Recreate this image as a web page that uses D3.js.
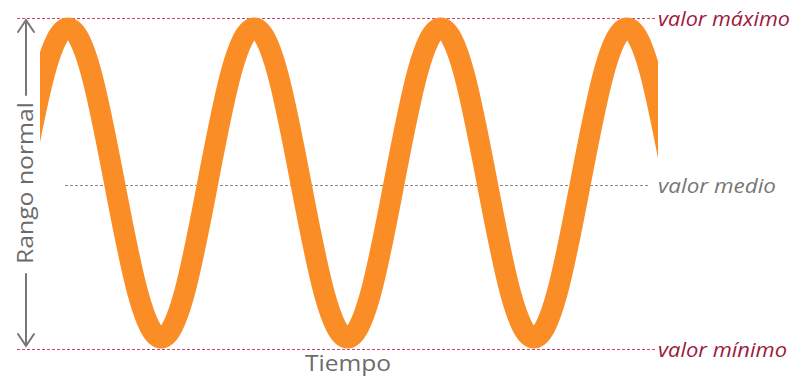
<!DOCTYPE html>
<html>
<head>
<meta charset="utf-8">
<script src="https://cdn.jsdelivr.net/npm/d3@7"></script>
<style>
    body { margin: 0; background: #fff; }
    svg text { font-family: "Open Sans", sans-serif; }
    .ref-label { font-style: italic; }
</style>
</head>
<body>
<div class="mainview"></div>
<script>

// time in eighths of a period, value as share of the amplitude
const tiempo = [-2, -1, 0, 1, 2, 3, 4, 5, 6, 7, 8, 9, 10, 11, 12, 13, 14, 15, 16, 17, 18, 19, 20, 21, 22, 23, 24, 25, 26, 27];
const valor = [0, 0.71, 1, 0.71, 0, -0.71, -1, -0.71, 0, 0.71, 1, 0.71, 0, -0.71, -1, -0.71, 0, 0.71, 1, 0.71, 0, -0.71, -1, -0.71, 0, 0.71, 1, 0.71, 0, -0.71];
const refLabels = ["valor máximo", "valor medio", "valor mínimo"];
const refValues = [1, 0, -1];
const axisTitles = { x: "Tiempo", y: "Rango normal" };

const dim = { width: 793, height: 377 };
const plot = { left: 40, right: 658 };
const strokeW = 21;

const x = d3.scaleLinear()
    .domain([-1.2, 25.33])
    .range([plot.left, plot.right]);

const y = d3.scaleLinear()
    .domain([-1, 1])
    .range([338, 28]);

const svg = d3.select(".mainview").append("svg")
    .attr("width", dim.width)
    .attr("height", dim.height);

svg.append("defs").append("clipPath")
    .attr("id", "clip")
    .append("rect")
    .attr("x", plot.left).attr("y", 0)
    .attr("width", plot.right - plot.left)
    .attr("height", dim.height);

// reference lines
const refY = v => Math.round(v === 1 ? y(v) - strokeW / 2 : v === -1 ? y(v) + strokeW / 2 : y(v) + 2) + 0.5;

svg.append("g")
    .selectAll("line")
    .data(refValues)
    .join("line")
    .attr("x1", v => v === 0 ? 65 : 17)
    .attr("x2", v => v === 0 ? 650 : 655)
    .attr("y1", refY)
    .attr("y2", refY)
    .attr("stroke", v => v === 0 ? "#8a8a8a" : "#d2416f")
    .attr("stroke-width", 1)
    .attr("stroke-dasharray", "3,2");

// wave
const line = d3.line()
    .curve(d3.curveNatural)
    .x(d => x(d))
    .y((d, i) => y(valor[i]));

svg.append("path")
    .attr("clip-path", "url(#clip)")
    .attr("d", line(tiempo))
    .attr("fill", "none")
    .attr("stroke", "#fb8d27")
    .attr("stroke-width", strokeW);

// labels on the right
const labelW = [132, 118, 129];
svg.append("g")
    .selectAll("text")
    .data(refValues)
    .join("text")
    .attr("class", "ref-label")
    .attr("x", 658)
    .attr("y", v => refY(v) + 7)
    .attr("font-size", 20)
    .attr("fill", v => v === 0 ? "#777" : "#9c1b3e")
    .attr("textLength", (v, i) => labelW[i])
    .attr("lengthAdjust", "spacingAndGlyphs")
    .text((v, i) => refLabels[i]);

// x title
svg.append("text")
    .attr("x", 348)
    .attr("y", 371)
    .attr("text-anchor", "middle")
    .attr("font-size", 21)
    .attr("fill", "#6b6b6b")
    .attr("textLength", 86)
    .attr("lengthAdjust", "spacingAndGlyphs")
    .text(axisTitles.x);

// y title with arrows
const ax = 26;
svg.append("text")
    .attr("transform", `translate(${ ax + 7 }, 183) rotate(-90)`)
    .attr("text-anchor", "middle")
    .attr("font-size", 21)
    .attr("fill", "#6b6b6b")
    .attr("textLength", 162)
    .attr("lengthAdjust", "spacingAndGlyphs")
    .text(axisTitles.y);

const arrow = svg.append("g")
    .attr("stroke", "#777")
    .attr("stroke-width", 2)
    .attr("fill", "none")
    .attr("stroke-linecap", "round");

arrow.append("path").attr("d", `M${ ax },95 V20 M${ ax - 8 },32 L${ ax },20 L${ ax + 8 },32`);
arrow.append("path").attr("d", `M${ ax },274 V346 M${ ax - 8 },334 L${ ax },346 L${ ax + 8 },334`);

</script>
</body>
</html>
